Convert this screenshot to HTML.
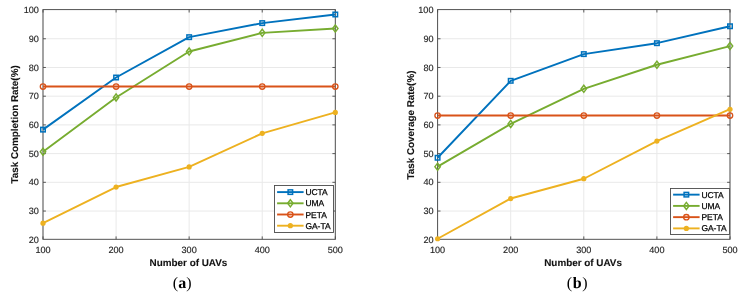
<!DOCTYPE html>
<html><head><meta charset="utf-8"><style>
html,body{margin:0;padding:0;background:#fff;}
body{width:741px;height:295px;overflow:hidden;}
svg{display:block;text-rendering:geometricPrecision;will-change:transform;-webkit-font-smoothing:antialiased;}
.tk{font-family:"Liberation Sans",sans-serif;font-size:9.1px;fill:#262626;stroke:#262626;stroke-width:0.15px;}
.lab{font-family:"Liberation Sans",sans-serif;font-size:9.9px;font-weight:bold;fill:#111;stroke:#111;stroke-width:0.1px;}
.lg{font-family:"Liberation Sans",sans-serif;font-size:8.45px;fill:#000;stroke:#000;stroke-width:0.25px;}
.tag{font-family:"Liberation Serif",serif;font-size:16px;fill:#000;}
</style></head><body>
<svg width="741" height="295" viewBox="0 0 741 295">
<g>
<rect width="741" height="295" fill="#fff"/>
<line x1="43.00" y1="9.6" x2="43.00" y2="239.3" stroke="#e9e9e9" stroke-width="1"/>
<line x1="116.08" y1="9.6" x2="116.08" y2="239.3" stroke="#e9e9e9" stroke-width="1"/>
<line x1="189.15" y1="9.6" x2="189.15" y2="239.3" stroke="#e9e9e9" stroke-width="1"/>
<line x1="262.23" y1="9.6" x2="262.23" y2="239.3" stroke="#e9e9e9" stroke-width="1"/>
<line x1="335.30" y1="9.6" x2="335.30" y2="239.3" stroke="#e9e9e9" stroke-width="1"/>
<line x1="43.0" y1="211.04" x2="335.3" y2="211.04" stroke="#e9e9e9" stroke-width="1"/>
<line x1="43.0" y1="182.32" x2="335.3" y2="182.32" stroke="#e9e9e9" stroke-width="1"/>
<line x1="43.0" y1="153.61" x2="335.3" y2="153.61" stroke="#e9e9e9" stroke-width="1"/>
<line x1="43.0" y1="124.90" x2="335.3" y2="124.90" stroke="#e9e9e9" stroke-width="1"/>
<line x1="43.0" y1="96.19" x2="335.3" y2="96.19" stroke="#e9e9e9" stroke-width="1"/>
<line x1="43.0" y1="67.47" x2="335.3" y2="67.47" stroke="#e9e9e9" stroke-width="1"/>
<line x1="43.0" y1="38.76" x2="335.3" y2="38.76" stroke="#e9e9e9" stroke-width="1"/>
<rect x="43.0" y="9.6" width="292.30" height="229.70" fill="none" stroke="#4a4a4a" stroke-width="0.95"/>
<line x1="43.00" y1="239.3" x2="43.00" y2="236.4" stroke="#4a4a4a" stroke-width="0.9"/>
<line x1="43.00" y1="9.6" x2="43.00" y2="12.5" stroke="#4a4a4a" stroke-width="0.9"/>
<line x1="116.08" y1="239.3" x2="116.08" y2="236.4" stroke="#4a4a4a" stroke-width="0.9"/>
<line x1="116.08" y1="9.6" x2="116.08" y2="12.5" stroke="#4a4a4a" stroke-width="0.9"/>
<line x1="189.15" y1="239.3" x2="189.15" y2="236.4" stroke="#4a4a4a" stroke-width="0.9"/>
<line x1="189.15" y1="9.6" x2="189.15" y2="12.5" stroke="#4a4a4a" stroke-width="0.9"/>
<line x1="262.23" y1="239.3" x2="262.23" y2="236.4" stroke="#4a4a4a" stroke-width="0.9"/>
<line x1="262.23" y1="9.6" x2="262.23" y2="12.5" stroke="#4a4a4a" stroke-width="0.9"/>
<line x1="335.30" y1="239.3" x2="335.30" y2="236.4" stroke="#4a4a4a" stroke-width="0.9"/>
<line x1="335.30" y1="9.6" x2="335.30" y2="12.5" stroke="#4a4a4a" stroke-width="0.9"/>
<line x1="43.0" y1="211.04" x2="45.9" y2="211.04" stroke="#4a4a4a" stroke-width="0.9"/>
<line x1="335.3" y1="211.04" x2="332.40000000000003" y2="211.04" stroke="#4a4a4a" stroke-width="0.9"/>
<line x1="43.0" y1="182.32" x2="45.9" y2="182.32" stroke="#4a4a4a" stroke-width="0.9"/>
<line x1="335.3" y1="182.32" x2="332.40000000000003" y2="182.32" stroke="#4a4a4a" stroke-width="0.9"/>
<line x1="43.0" y1="153.61" x2="45.9" y2="153.61" stroke="#4a4a4a" stroke-width="0.9"/>
<line x1="335.3" y1="153.61" x2="332.40000000000003" y2="153.61" stroke="#4a4a4a" stroke-width="0.9"/>
<line x1="43.0" y1="124.90" x2="45.9" y2="124.90" stroke="#4a4a4a" stroke-width="0.9"/>
<line x1="335.3" y1="124.90" x2="332.40000000000003" y2="124.90" stroke="#4a4a4a" stroke-width="0.9"/>
<line x1="43.0" y1="96.19" x2="45.9" y2="96.19" stroke="#4a4a4a" stroke-width="0.9"/>
<line x1="335.3" y1="96.19" x2="332.40000000000003" y2="96.19" stroke="#4a4a4a" stroke-width="0.9"/>
<line x1="43.0" y1="67.47" x2="45.9" y2="67.47" stroke="#4a4a4a" stroke-width="0.9"/>
<line x1="335.3" y1="67.47" x2="332.40000000000003" y2="67.47" stroke="#4a4a4a" stroke-width="0.9"/>
<line x1="43.0" y1="38.76" x2="45.9" y2="38.76" stroke="#4a4a4a" stroke-width="0.9"/>
<line x1="335.3" y1="38.76" x2="332.40000000000003" y2="38.76" stroke="#4a4a4a" stroke-width="0.9"/>
<polyline points="43.00,129.62 116.08,77.51 189.15,37.16 262.23,23.09 335.30,14.48" fill="none" stroke="#0072BD" stroke-width="1.9" stroke-linejoin="round"/>
<rect x="40.75" y="127.37" width="4.5" height="4.5" fill="none" stroke="#0072BD" stroke-width="1.5"/>
<rect x="113.83" y="75.26" width="4.5" height="4.5" fill="none" stroke="#0072BD" stroke-width="1.5"/>
<rect x="186.90" y="34.91" width="4.5" height="4.5" fill="none" stroke="#0072BD" stroke-width="1.5"/>
<rect x="259.98" y="20.84" width="4.5" height="4.5" fill="none" stroke="#0072BD" stroke-width="1.5"/>
<rect x="333.05" y="12.23" width="4.5" height="4.5" fill="none" stroke="#0072BD" stroke-width="1.5"/>
<polyline points="43.00,151.73 116.08,97.46 189.15,51.52 262.23,32.86 335.30,28.55" fill="none" stroke="#77AC30" stroke-width="1.9" stroke-linejoin="round"/>
<path d="M43.00 148.18L45.70 151.73L43.00 155.28L40.30 151.73Z" fill="none" stroke="#77AC30" stroke-width="1.45"/>
<path d="M116.08 93.91L118.78 97.46L116.08 101.01L113.38 97.46Z" fill="none" stroke="#77AC30" stroke-width="1.45"/>
<path d="M189.15 47.97L191.85 51.52L189.15 55.07L186.45 51.52Z" fill="none" stroke="#77AC30" stroke-width="1.45"/>
<path d="M262.23 29.31L264.93 32.86L262.23 36.41L259.53 32.86Z" fill="none" stroke="#77AC30" stroke-width="1.45"/>
<path d="M335.30 25.00L338.00 28.55L335.30 32.10L332.60 28.55Z" fill="none" stroke="#77AC30" stroke-width="1.45"/>
<polyline points="43.00,86.55 116.08,86.55 189.15,86.55 262.23,86.55 335.30,86.55" fill="none" stroke="#D95319" stroke-width="1.9" stroke-linejoin="round"/>
<circle cx="43.00" cy="86.55" r="2.7" fill="none" stroke="#D95319" stroke-width="1.35"/>
<circle cx="116.08" cy="86.55" r="2.7" fill="none" stroke="#D95319" stroke-width="1.35"/>
<circle cx="189.15" cy="86.55" r="2.7" fill="none" stroke="#D95319" stroke-width="1.35"/>
<circle cx="262.23" cy="86.55" r="2.7" fill="none" stroke="#D95319" stroke-width="1.35"/>
<circle cx="335.30" cy="86.55" r="2.7" fill="none" stroke="#D95319" stroke-width="1.35"/>
<polyline points="43.00,223.22 116.08,187.04 189.15,166.94 262.23,133.35 335.30,112.39" fill="none" stroke="#EDB120" stroke-width="1.9" stroke-linejoin="round"/>
<circle cx="43.00" cy="223.22" r="2.6" fill="#EDB120" stroke="none"/>
<circle cx="116.08" cy="187.04" r="2.6" fill="#EDB120" stroke="none"/>
<circle cx="189.15" cy="166.94" r="2.6" fill="#EDB120" stroke="none"/>
<circle cx="262.23" cy="133.35" r="2.6" fill="#EDB120" stroke="none"/>
<circle cx="335.30" cy="112.39" r="2.6" fill="#EDB120" stroke="none"/>
<text x="38.90" y="242.90" text-anchor="end" class="tk">20</text>
<text x="38.90" y="214.19" text-anchor="end" class="tk">30</text>
<text x="38.90" y="185.47" text-anchor="end" class="tk">40</text>
<text x="38.90" y="156.76" text-anchor="end" class="tk">50</text>
<text x="38.90" y="128.05" text-anchor="end" class="tk">60</text>
<text x="38.90" y="99.34" text-anchor="end" class="tk">70</text>
<text x="38.90" y="70.62" text-anchor="end" class="tk">80</text>
<text x="38.90" y="41.91" text-anchor="end" class="tk">90</text>
<text x="38.90" y="13.20" text-anchor="end" class="tk">100</text>
<text x="43.00" y="252.50" text-anchor="middle" class="tk">100</text>
<text x="116.08" y="252.50" text-anchor="middle" class="tk">200</text>
<text x="189.15" y="252.50" text-anchor="middle" class="tk">300</text>
<text x="262.23" y="252.50" text-anchor="middle" class="tk">400</text>
<text x="335.30" y="252.50" text-anchor="middle" class="tk">500</text>
<text x="188.45" y="265.5" text-anchor="middle" class="lab">Number of UAVs</text>
<text transform="translate(18.1,124.45) rotate(-90)" text-anchor="middle" class="lab">Task Completion Rate(%)</text>
<rect x="274.5" y="185.5" width="59" height="47" fill="#fff" stroke="#4a4a4a" stroke-width="0.9"/>
<line x1="277.10" y1="192.10" x2="303.60" y2="192.10" stroke="#0072BD" stroke-width="1.9"/>
<rect x="288.10" y="189.85" width="4.5" height="4.5" fill="none" stroke="#0072BD" stroke-width="1.5"/>
<text x="305.40" y="195.10" class="lg">UCTA</text>
<line x1="277.10" y1="203.30" x2="303.60" y2="203.30" stroke="#77AC30" stroke-width="1.9"/>
<path d="M290.35 199.75L293.05 203.30L290.35 206.85L287.65 203.30Z" fill="none" stroke="#77AC30" stroke-width="1.45"/>
<text x="305.40" y="206.30" class="lg">UMA</text>
<line x1="277.10" y1="214.50" x2="303.60" y2="214.50" stroke="#D95319" stroke-width="1.9"/>
<circle cx="290.35" cy="214.50" r="2.7" fill="none" stroke="#D95319" stroke-width="1.35"/>
<text x="305.40" y="217.50" class="lg">PETA</text>
<line x1="277.10" y1="225.70" x2="303.60" y2="225.70" stroke="#EDB120" stroke-width="1.9"/>
<circle cx="290.35" cy="225.70" r="2.6" fill="#EDB120" stroke="none"/>
<text x="305.40" y="228.70" class="lg">GA-TA</text>
<text x="182.15" y="288.2" text-anchor="middle" class="tag" letter-spacing="0">(<tspan font-weight="bold">a</tspan>)</text>
<line x1="437.60" y1="9.6" x2="437.60" y2="239.3" stroke="#e9e9e9" stroke-width="1"/>
<line x1="510.70" y1="9.6" x2="510.70" y2="239.3" stroke="#e9e9e9" stroke-width="1"/>
<line x1="583.80" y1="9.6" x2="583.80" y2="239.3" stroke="#e9e9e9" stroke-width="1"/>
<line x1="656.90" y1="9.6" x2="656.90" y2="239.3" stroke="#e9e9e9" stroke-width="1"/>
<line x1="730.00" y1="9.6" x2="730.00" y2="239.3" stroke="#e9e9e9" stroke-width="1"/>
<line x1="437.6" y1="211.04" x2="730.0" y2="211.04" stroke="#e9e9e9" stroke-width="1"/>
<line x1="437.6" y1="182.32" x2="730.0" y2="182.32" stroke="#e9e9e9" stroke-width="1"/>
<line x1="437.6" y1="153.61" x2="730.0" y2="153.61" stroke="#e9e9e9" stroke-width="1"/>
<line x1="437.6" y1="124.90" x2="730.0" y2="124.90" stroke="#e9e9e9" stroke-width="1"/>
<line x1="437.6" y1="96.19" x2="730.0" y2="96.19" stroke="#e9e9e9" stroke-width="1"/>
<line x1="437.6" y1="67.47" x2="730.0" y2="67.47" stroke="#e9e9e9" stroke-width="1"/>
<line x1="437.6" y1="38.76" x2="730.0" y2="38.76" stroke="#e9e9e9" stroke-width="1"/>
<rect x="437.6" y="9.6" width="292.40" height="229.70" fill="none" stroke="#4a4a4a" stroke-width="0.95"/>
<line x1="437.60" y1="239.3" x2="437.60" y2="236.4" stroke="#4a4a4a" stroke-width="0.9"/>
<line x1="437.60" y1="9.6" x2="437.60" y2="12.5" stroke="#4a4a4a" stroke-width="0.9"/>
<line x1="510.70" y1="239.3" x2="510.70" y2="236.4" stroke="#4a4a4a" stroke-width="0.9"/>
<line x1="510.70" y1="9.6" x2="510.70" y2="12.5" stroke="#4a4a4a" stroke-width="0.9"/>
<line x1="583.80" y1="239.3" x2="583.80" y2="236.4" stroke="#4a4a4a" stroke-width="0.9"/>
<line x1="583.80" y1="9.6" x2="583.80" y2="12.5" stroke="#4a4a4a" stroke-width="0.9"/>
<line x1="656.90" y1="239.3" x2="656.90" y2="236.4" stroke="#4a4a4a" stroke-width="0.9"/>
<line x1="656.90" y1="9.6" x2="656.90" y2="12.5" stroke="#4a4a4a" stroke-width="0.9"/>
<line x1="730.00" y1="239.3" x2="730.00" y2="236.4" stroke="#4a4a4a" stroke-width="0.9"/>
<line x1="730.00" y1="9.6" x2="730.00" y2="12.5" stroke="#4a4a4a" stroke-width="0.9"/>
<line x1="437.6" y1="211.04" x2="440.5" y2="211.04" stroke="#4a4a4a" stroke-width="0.9"/>
<line x1="730.0" y1="211.04" x2="727.1" y2="211.04" stroke="#4a4a4a" stroke-width="0.9"/>
<line x1="437.6" y1="182.32" x2="440.5" y2="182.32" stroke="#4a4a4a" stroke-width="0.9"/>
<line x1="730.0" y1="182.32" x2="727.1" y2="182.32" stroke="#4a4a4a" stroke-width="0.9"/>
<line x1="437.6" y1="153.61" x2="440.5" y2="153.61" stroke="#4a4a4a" stroke-width="0.9"/>
<line x1="730.0" y1="153.61" x2="727.1" y2="153.61" stroke="#4a4a4a" stroke-width="0.9"/>
<line x1="437.6" y1="124.90" x2="440.5" y2="124.90" stroke="#4a4a4a" stroke-width="0.9"/>
<line x1="730.0" y1="124.90" x2="727.1" y2="124.90" stroke="#4a4a4a" stroke-width="0.9"/>
<line x1="437.6" y1="96.19" x2="440.5" y2="96.19" stroke="#4a4a4a" stroke-width="0.9"/>
<line x1="730.0" y1="96.19" x2="727.1" y2="96.19" stroke="#4a4a4a" stroke-width="0.9"/>
<line x1="437.6" y1="67.47" x2="440.5" y2="67.47" stroke="#4a4a4a" stroke-width="0.9"/>
<line x1="730.0" y1="67.47" x2="727.1" y2="67.47" stroke="#4a4a4a" stroke-width="0.9"/>
<line x1="437.6" y1="38.76" x2="440.5" y2="38.76" stroke="#4a4a4a" stroke-width="0.9"/>
<line x1="730.0" y1="38.76" x2="727.1" y2="38.76" stroke="#4a4a4a" stroke-width="0.9"/>
<polyline points="437.60,157.76 510.70,80.81 583.80,54.10 656.90,43.19 730.00,26.25" fill="none" stroke="#0072BD" stroke-width="1.9" stroke-linejoin="round"/>
<rect x="435.35" y="155.51" width="4.5" height="4.5" fill="none" stroke="#0072BD" stroke-width="1.5"/>
<rect x="508.45" y="78.56" width="4.5" height="4.5" fill="none" stroke="#0072BD" stroke-width="1.5"/>
<rect x="581.55" y="51.85" width="4.5" height="4.5" fill="none" stroke="#0072BD" stroke-width="1.5"/>
<rect x="654.65" y="40.94" width="4.5" height="4.5" fill="none" stroke="#0072BD" stroke-width="1.5"/>
<rect x="727.75" y="24.00" width="4.5" height="4.5" fill="none" stroke="#0072BD" stroke-width="1.5"/>
<polyline points="437.60,166.66 510.70,123.88 583.80,88.85 656.90,64.73 730.00,46.06" fill="none" stroke="#77AC30" stroke-width="1.9" stroke-linejoin="round"/>
<path d="M437.60 163.11L440.30 166.66L437.60 170.21L434.90 166.66Z" fill="none" stroke="#77AC30" stroke-width="1.45"/>
<path d="M510.70 120.33L513.40 123.88L510.70 127.43L508.00 123.88Z" fill="none" stroke="#77AC30" stroke-width="1.45"/>
<path d="M583.80 85.30L586.50 88.85L583.80 92.40L581.10 88.85Z" fill="none" stroke="#77AC30" stroke-width="1.45"/>
<path d="M656.90 61.18L659.60 64.73L656.90 68.28L654.20 64.73Z" fill="none" stroke="#77AC30" stroke-width="1.45"/>
<path d="M730.00 42.51L732.70 46.06L730.00 49.61L727.30 46.06Z" fill="none" stroke="#77AC30" stroke-width="1.45"/>
<polyline points="437.60,115.55 510.70,115.55 583.80,115.55 656.90,115.55 730.00,115.55" fill="none" stroke="#D95319" stroke-width="1.9" stroke-linejoin="round"/>
<circle cx="437.60" cy="115.55" r="2.7" fill="none" stroke="#D95319" stroke-width="1.35"/>
<circle cx="510.70" cy="115.55" r="2.7" fill="none" stroke="#D95319" stroke-width="1.35"/>
<circle cx="583.80" cy="115.55" r="2.7" fill="none" stroke="#D95319" stroke-width="1.35"/>
<circle cx="656.90" cy="115.55" r="2.7" fill="none" stroke="#D95319" stroke-width="1.35"/>
<circle cx="730.00" cy="115.55" r="2.7" fill="none" stroke="#D95319" stroke-width="1.35"/>
<polyline points="437.60,238.73 510.70,198.53 583.80,178.72 656.90,141.10 730.00,109.23" fill="none" stroke="#EDB120" stroke-width="1.9" stroke-linejoin="round"/>
<circle cx="437.60" cy="238.73" r="2.6" fill="#EDB120" stroke="none"/>
<circle cx="510.70" cy="198.53" r="2.6" fill="#EDB120" stroke="none"/>
<circle cx="583.80" cy="178.72" r="2.6" fill="#EDB120" stroke="none"/>
<circle cx="656.90" cy="141.10" r="2.6" fill="#EDB120" stroke="none"/>
<circle cx="730.00" cy="109.23" r="2.6" fill="#EDB120" stroke="none"/>
<text x="433.50" y="242.90" text-anchor="end" class="tk">20</text>
<text x="433.50" y="214.19" text-anchor="end" class="tk">30</text>
<text x="433.50" y="185.47" text-anchor="end" class="tk">40</text>
<text x="433.50" y="156.76" text-anchor="end" class="tk">50</text>
<text x="433.50" y="128.05" text-anchor="end" class="tk">60</text>
<text x="433.50" y="99.34" text-anchor="end" class="tk">70</text>
<text x="433.50" y="70.62" text-anchor="end" class="tk">80</text>
<text x="433.50" y="41.91" text-anchor="end" class="tk">90</text>
<text x="433.50" y="13.20" text-anchor="end" class="tk">100</text>
<text x="437.60" y="252.50" text-anchor="middle" class="tk">100</text>
<text x="510.70" y="252.50" text-anchor="middle" class="tk">200</text>
<text x="583.80" y="252.50" text-anchor="middle" class="tk">300</text>
<text x="656.90" y="252.50" text-anchor="middle" class="tk">400</text>
<text x="730.00" y="252.50" text-anchor="middle" class="tk">500</text>
<text x="583.10" y="265.5" text-anchor="middle" class="lab">Number of UAVs</text>
<text transform="translate(413.7,125.05) rotate(-90)" text-anchor="middle" class="lab">Task Coverage Rate(%)</text>
<rect x="670.5" y="188.5" width="59" height="46" fill="#fff" stroke="#4a4a4a" stroke-width="0.9"/>
<line x1="673.10" y1="194.65" x2="699.60" y2="194.65" stroke="#0072BD" stroke-width="1.9"/>
<rect x="684.10" y="192.40" width="4.5" height="4.5" fill="none" stroke="#0072BD" stroke-width="1.5"/>
<text x="701.40" y="197.65" class="lg">UCTA</text>
<line x1="673.10" y1="205.90" x2="699.60" y2="205.90" stroke="#77AC30" stroke-width="1.9"/>
<path d="M686.35 202.35L689.05 205.90L686.35 209.45L683.65 205.90Z" fill="none" stroke="#77AC30" stroke-width="1.45"/>
<text x="701.40" y="208.90" class="lg">UMA</text>
<line x1="673.10" y1="217.15" x2="699.60" y2="217.15" stroke="#D95319" stroke-width="1.9"/>
<circle cx="686.35" cy="217.15" r="2.7" fill="none" stroke="#D95319" stroke-width="1.35"/>
<text x="701.40" y="220.15" class="lg">PETA</text>
<line x1="673.10" y1="228.40" x2="699.60" y2="228.40" stroke="#EDB120" stroke-width="1.9"/>
<circle cx="686.35" cy="228.40" r="2.6" fill="#EDB120" stroke="none"/>
<text x="701.40" y="231.40" class="lg">GA-TA</text>
<text x="577.50" y="288.2" text-anchor="middle" class="tag" letter-spacing="0.6">(<tspan font-weight="bold">b</tspan>)</text>
</g>
</svg>
</body></html>
